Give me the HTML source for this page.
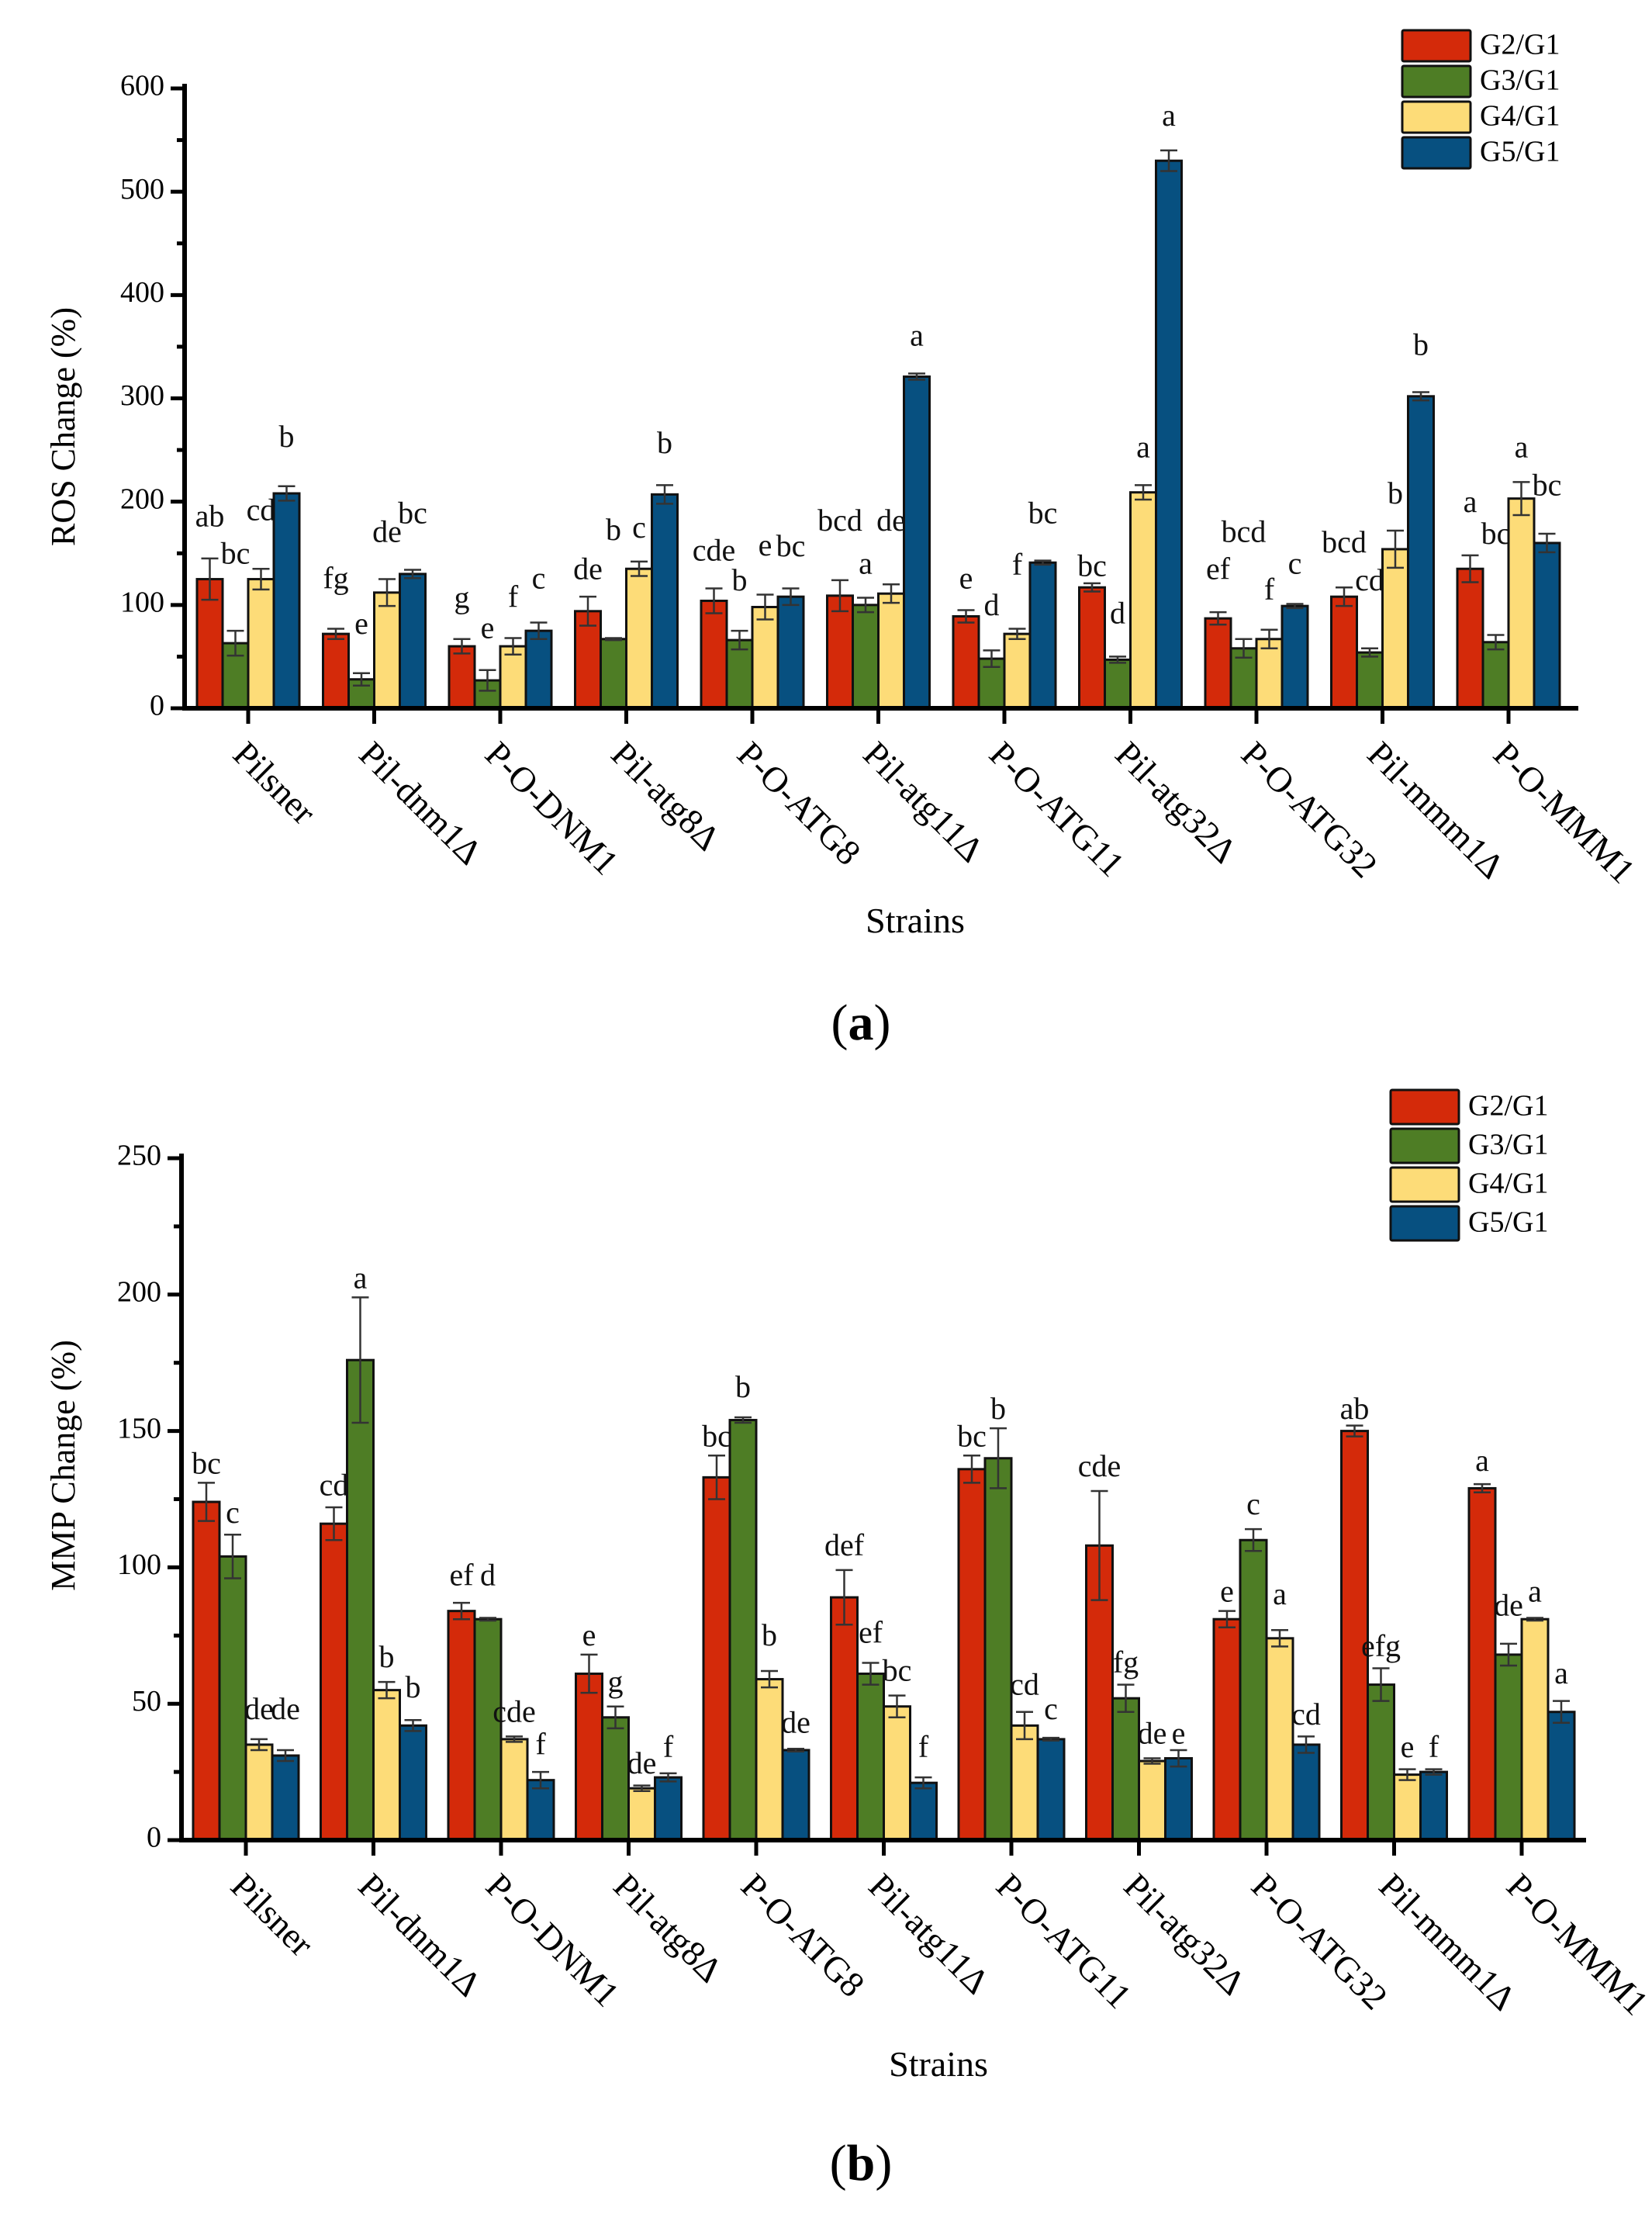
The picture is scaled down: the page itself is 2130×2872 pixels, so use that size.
<!DOCTYPE html>
<html><head><meta charset="utf-8">
<style>
html,body{margin:0;padding:0;background:#fff;}
svg{display:block;}
svg text{font-family:"Liberation Serif","DejaVu Serif",serif;}
</style></head>
<body>
<svg id="fig" width="2130" height="2872" viewBox="0 0 2130 2872" font-family="Liberation Serif, DejaVu Serif, serif" xmlns="http://www.w3.org/2000/svg"></svg>
<script>
const categories = ["Pilsner","Pil-dnm1\u0394","P-O-DNM1","Pil-atg8\u0394","P-O-ATG8","Pil-atg11\u0394","P-O-ATG11","Pil-atg32\u0394","P-O-ATG32","Pil-mmm1\u0394","P-O-MMM1"];
const seriesNames = ["G2/G1","G3/G1","G4/G1","G5/G1"];
// Chart A (ROS)
const rosG2 = [125,72,60,94,104,109,89,117,87,108,135];
const rosG3 = [63,28,27,67,66,100,48,47,58,54,64];
const rosG4 = [125,112,60,135,98,111,72,209,67,154,203];
const rosG5 = [208,130,75,207,108,321,141,530,99,302,160];
const rosErrG2 = [20,5,7,14,12,15,6,4,6,9,13];
const rosErrG3 = [12,6,10,1,9,7,8,3,9,4,7];
const rosErrG4 = [10,13,8,7,12,9,5,7,9,18,16];
const rosErrG5 = [7,4,8,9,8,3,2,10,2,4,9];
const rosLetG2 = ["ab","fg","g","de","cde","bcd","e","bc","ef","bcd","a"];
const rosLetG3 = ["bc","e","e","b","b","a","d","d","bcd","cd","bc"];
const rosLetG4 = ["cd","de","f","c","e","de","f","a","f","b","a"];
const rosLetG5 = ["b","bc","c","b","bc","a","bc","a","c","b","bc"];
const rosLetYG2 = [183,123,104,132,150,179,123,135,132,158,197];
const rosLetYG3 = [147,79,75,170,121,137,97,89,168,121,166];
const rosLetYG4 = [189,168,105,172,155,179,136,250,112,205,250];
const rosLetYG5 = [260,186,123,254,154,358,186,571,137,349,213];
const rosTicks = [0,100,200,300,400,500,600];
// Chart B (MMP)
const mmpG2 = [124,116,84,61,133,89,136,108,81,150,129];
const mmpG3 = [104,176,81,45,154,61,140,52,110,57,68];
const mmpG4 = [35,55,37,19,59,49,42,29,74,24,81];
const mmpG5 = [31,42,22,23,33,21,37,30,35,25,47];
const mmpErrG2 = [7,6,3,7,8,10,5,20,3,2,1.5];
const mmpErrG3 = [8,23,0.5,4,1,4,11,5,4,6,4];
const mmpErrG4 = [2,3,1,1,3,4,5,1,3,2,0.5];
const mmpErrG5 = [2,2,3,1.5,0.5,2,0.5,3,3,1,4];
const mmpLetG2 = ["bc","cd","ef","e","bc","def","bc","cde","e","ab","a"];
const mmpLetG3 = ["c","a","d","g","b","ef","b","fg","c","efg","de"];
const mmpLetG4 = ["de","b","cde","de","b","bc","cd","de","a","e","a"];
const mmpLetG5 = ["de","b","f","f","de","f","c","e","cd","f","a"];
const mmpLetYG2 = [137,129,96,74,147,107,147,136,90,157,138];
const mmpLetYG3 = [119,205,96,57,165,75,157,64,122,70,85];
const mmpLetYG4 = [47,66,46,27,74,61,56,38,89,33,90];
const mmpLetYG5 = [47,55,34,33,42,33,47,38,45,33,60];
const mmpTicks = [0,50,100,150,200,250];

const colors = ["#d42a0a","#4e7d25","#fddc78","#075080"];
const NS = "http://www.w3.org/2000/svg";
const svg = document.getElementById("fig");
function mk(tag, attrs, parent, text){
  const e = document.createElementNS(NS, tag);
  for (const k in attrs) e.setAttribute(k, attrs[k]);
  if (tag === "text") e.setAttribute("font-family", "Liberation Serif, DejaVu Serif, serif");
  if (text !== undefined) e.textContent = text;
  (parent||svg).appendChild(e);
  return e;
}

function drawChart(cfg){
  const g = mk("g", {});
  
  
  const yScale = v => cfg.y0 - v / cfg.yMax * (cfg.y0 - cfg.yTop);
  const n = categories.length;
  const center = i => cfg.c0 + i * cfg.step;
  const bw = cfg.bw;
  for (let s = 0; s < 4; s++){
    for (let i = 0; i < n; i++){
      const v = cfg.vals[s][i];
      const x = center(i) - 2*bw + s*bw;
      const r = mk("rect", {x:x, y:yScale(v), width:bw, height:cfg.y0 - yScale(v), fill:colors[s], stroke:"#111", "stroke-width":3}, g);
      
      
      const e = cfg.errs[s][i];
      const cx = x + bw/2;
      const eb = mk("path", {d:`M${cx},${yScale(v+e)}V${yScale(v-e)}M${cx-11},${yScale(v+e)}H${cx+11}M${cx-11},${yScale(v-e)}H${cx+11}`, stroke:"#333", "stroke-width":2.5, fill:"none"}, g);
      
      
      const t = mk("text", {x:cx, y:yScale(cfg.letY[s][i]), "font-size":40, "text-anchor":"middle", "dominant-baseline":"middle", fill:"#111"}, g, cfg.lets[s][i]);
      
      
    }
  }
  const ax = mk("path", {d:`M${cfg.x0},${cfg.yTop-6}V${cfg.y0}H${cfg.xEnd}`, stroke:"#000", "stroke-width":6, fill:"none"}, g);
  
  
  const minor = cfg.ticks[1]/2;
  for (let v = 0; v <= cfg.yMax; v += minor){
    const isMajor = cfg.ticks.indexOf(v) >= 0;
    mk("line", {x1:cfg.x0 - (isMajor?18:10), x2:cfg.x0, y1:yScale(v), y2:yScale(v), stroke:"#000", "stroke-width":5}, g);
  }
  cfg.ticks.forEach(v => {
    const t = mk("text", {x:cfg.x0 - 26, y:yScale(v), "font-size":38, "text-anchor":"end", "dominant-baseline":"middle"}, g, String(v));
    
    
  });
  for (let i = 0; i < n; i++){
    mk("line", {x1:center(i), x2:center(i), y1:cfg.y0, y2:cfg.y0+20, stroke:"#000", "stroke-width":5}, g);
    const lx = center(i) - 22, ly = cfg.y0 + 62;
    const t = mk("text", {x:lx, y:ly, "font-size":46, transform:`rotate(45 ${lx} ${ly})`}, g, categories[i]);
    
    
  }
  const yt = mk("text", {x:cfg.ytX, y:cfg.ytY, "font-size":44, "text-anchor":"middle", transform:`rotate(-90 ${cfg.ytX} ${cfg.ytY})`}, g, cfg.yTitle);
  
  
  const xt = mk("text", {x:cfg.xtX, y:cfg.xtY, "font-size":46, "text-anchor":"middle"}, g, "Strains");
  
  
  const pl = mk("text", {x:1110, y:cfg.panelY, "font-size":66, "text-anchor":"middle"}, g);
  
  
  mk("tspan", {}, pl, "(");
  mk("tspan", {"font-weight":"bold"}, pl, cfg.panel);
  mk("tspan", {}, pl, ")");
  for (let s = 0; s < 4; s++){
    const y = cfg.legY + s*cfg.legP;
    const r = mk("rect", {x:cfg.legX, y:y, width:88, height:cfg.legP-6, fill:colors[s], stroke:"#111", "stroke-width":3, rx:2}, g);
    
    
    const t = mk("text", {x:cfg.legX+100, y:y + (cfg.legP-6)/2 + 2, "font-size":38, "dominant-baseline":"middle"}, g, seriesNames[s]);
    
    
  }
}

drawChart({name:"ros-chart", x0:238, xEnd:2035, y0:913, yTop:114, yMax:600, ticks:rosTicks,
  c0:320, step:162.5, bw:33,
  vals:[rosG2,rosG3,rosG4,rosG5], errs:[rosErrG2,rosErrG3,rosErrG4,rosErrG5],
  lets:[rosLetG2,rosLetG3,rosLetG4,rosLetG5], letY:[rosLetYG2,rosLetYG3,rosLetYG4,rosLetYG5],
  yTitle:"ROS Change (%)", ytX:96, ytY:550, xtX:1180, xtY:1202, panel:"a", panelY:1340,
  legX:1808, legY:39, legP:46});
drawChart({name:"mmp-chart", x0:234, xEnd:2045, y0:2372, yTop:1493, yMax:250, ticks:mmpTicks,
  c0:317, step:164.5, bw:34,
  vals:[mmpG2,mmpG3,mmpG4,mmpG5], errs:[mmpErrG2,mmpErrG3,mmpErrG4,mmpErrG5],
  lets:[mmpLetG2,mmpLetG3,mmpLetG4,mmpLetG5], letY:[mmpLetYG2,mmpLetYG3,mmpLetYG4,mmpLetYG5],
  yTitle:"MMP Change (%)", ytX:96, ytY:1889, xtX:1210, xtY:2676, panel:"b", panelY:2810,
  legX:1793, legY:1405, legP:50});
</script>
</body></html>
